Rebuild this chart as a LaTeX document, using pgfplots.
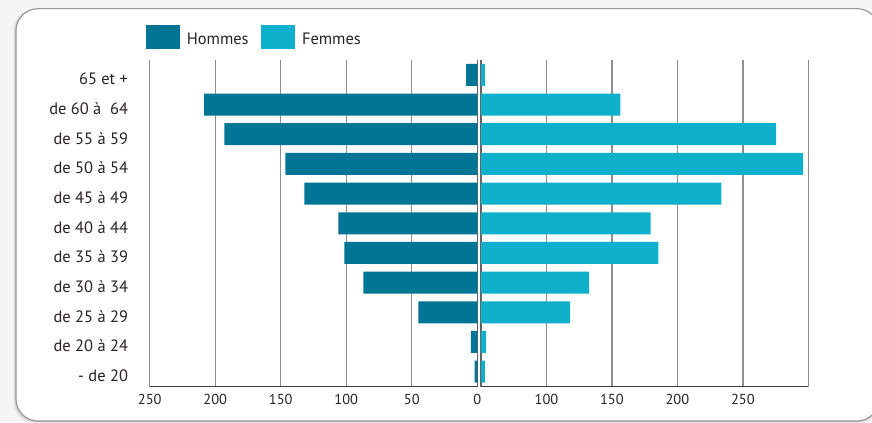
\documentclass[border=0pt]{standalone}
\usepackage{fontspec}
\setmainfont{PT Sans}
\usepackage{pgfplots}
\usepackage{pgfplotstable}
\pgfplotsset{compat=1.18}

\definecolor{hommes}{RGB}{0,117,150}
\definecolor{femmes}{RGB}{14,176,204}
\definecolor{gridgray}{RGB}{142,142,142}
\definecolor{centerline}{RGB}{100,100,100}
\definecolor{axisdark}{RGB}{60,60,60}
\definecolor{textgray}{RGB}{40,36,37}
\definecolor{framegray}{RGB}{150,150,150}

% Effectifs par tranche d'age
\pgfplotstableread{
pos hommes femmes
10  8.5    3
9   208.5  106.5
8   193    225.5
7   146.5  246
6   132    183.5
5   106    129.5
4   101.5  135.5
3   87     82.5
2   45     68
1   5      4
0   2      3
}\pyramide

\pgfplotsset{
  pyramid/.style={
    scale only axis, anchor=south west,
    height=326.5bp,
    ymin=-0.5, ymax=10.5,
    xmajorgrids,
    grid style={gridgray, line width=1.3bp},
    axis x line=bottom, axis y line=left,
    x axis line style={-, axisdark, line width=1.2bp},
    tick style={draw=none},
    major tick length=0pt,
    xticklabel style={font=\fontsize{14.5}{16}\selectfont, text=textgray, inner sep=0pt, yshift=-7.5bp},
    /pgf/number format/assume math mode=true,
    clip=false,
  },
}

\begin{document}
\begin{tikzpicture}[x=1bp,y=1bp]
\useasboundingbox (0,0) rectangle (872,422);
\clip (0,0) rectangle (872,422);
\fill[black!4] (0,0) rectangle (872,422);
% cadre arrondi avec ombre douce
\foreach \o/\a in {3/0.04,2/0.06,1/0.08}{
  \fill[black, opacity=\a, rounded corners=22bp] (16-\o,1-\o) rectangle (879,413.3);
}
\filldraw[fill=white, draw=framegray, line width=1.1bp, rounded corners=22bp] (16,1) rectangle (879,413.3);

% Hommes (gauche)
\begin{axis}[pyramid,
  at={(149.7bp,35.5bp)}, width=327.6bp,
  xmin=-250, xmax=0,
  xtick={-250,-200,...,-50}, xticklabels={250,200,150,100,50},
  extra x ticks={0}, extra x tick labels={0},
  extra x tick style={grid style={centerline, line width=1.4bp}},
  y axis line style={-, gridgray, line width=1.3bp},
  ytick={0,...,10},
  yticklabels={{- de 20},{de 20 à 24},{de 25 à 29},{de 30 à 34},{de 35 à 39},{de 40 à 44},{de 45 à 49},{de 50 à 54},{de 55 à 59},{de 60 à\ \ 64},{65 et +}},
  yticklabel style={font=\fontsize{16.5}{18}\selectfont, text=textgray, anchor=east, inner sep=0pt, xshift=-21.5bp, yshift=-4bp},
  legend columns=2,
  legend style={at={(-0.0113,1.0631)}, anchor=west, draw=none, fill=none,
    inner sep=0pt, outer sep=0pt,
    font=\fontsize{16.5}{18}\selectfont, text=textgray,
    nodes={inner sep=0pt},
    /tikz/every odd column/.append style={column sep=7.4bp},
    /tikz/every even column/.append style={column sep=12.6bp}},
  legend cell align=left,
]
\addplot[xbar, bar width=22bp, fill=hommes, draw=none, forget plot]
  table[x expr=-\thisrow{hommes}, y=pos] {\pyramide};
\addlegendimage{legend image code/.code={\path (0,-14.4bp); \fill[hommes] (0,-8.35bp) rectangle (33bp,14.35bp);}}
\addlegendentry{Hommes}
\addlegendimage{legend image code/.code={\path (0,-14.4bp); \fill[femmes] (0,-8.35bp) rectangle (33bp,14.35bp);}}
\addlegendentry{Femmes}
\end{axis}

% Femmes (droite)
\begin{axis}[pyramid,
  at={(481bp,35.5bp)}, width=327.3bp,
  xmin=0, xmax=250,
  xtick={50,100,...,250}, xticklabels={100,150,200,250,},
  ytick=\empty,
  y axis line style={-, centerline, line width=1.4bp},
]
\addplot[xbar, bar width=22bp, fill=femmes, draw=none]
  table[x=femmes, y=pos] {\pyramide};
\end{axis}
\end{tikzpicture}
\end{document}
